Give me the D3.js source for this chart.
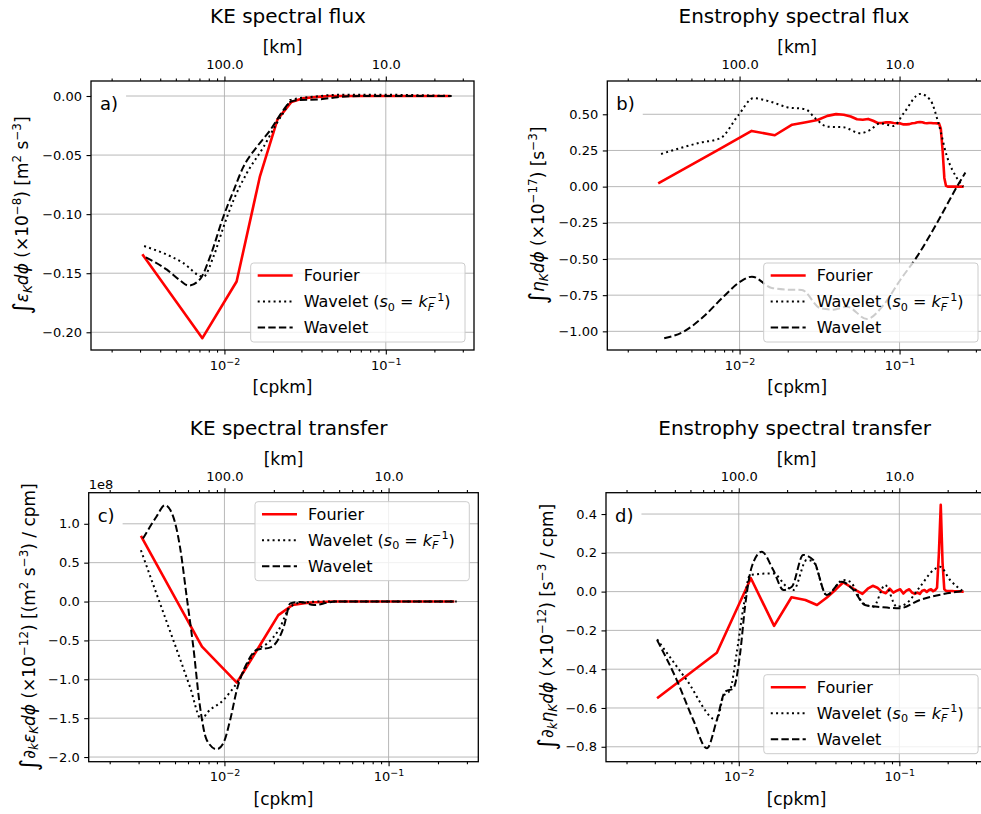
<!DOCTYPE html>
<html lang="en">
<head>
<meta charset="UTF-8">
<title>spectral flux and transfer</title>
<style>
  body { margin: 0; background: #fff; }
  svg text { font-family: "DejaVu Sans", sans-serif; fill: #000; }
  .tick text { font-family: "DejaVu Sans", sans-serif; font-size: 13px; }
  .tick line { stroke: #000; stroke-width: 1.1px; }
  .grid line { stroke: #b0b0b0; stroke-width: 0.9px; }
  .title { font-size: 20px; }
  .alabel { font-size: 17px; }
  .leg { font-size: 16px; }
  .plabel { font-size: 18px; }
  .fourier { fill: none; stroke: #ff0000; stroke-width: 2.6px; stroke-linejoin: round; }
  .s0 { fill: none; stroke: #000; stroke-width: 2px; stroke-dasharray: 2 3.3; }
  .wav { fill: none; stroke: #000; stroke-width: 2px; stroke-dasharray: 7.4 3.2; }
</style>
</head>
<body>
<svg id="fig" width="981" height="814"></svg>

<script src="https://cdn.jsdelivr.net/npm/d3@7"></script>
<script>
"use strict";

// wavenumbers of the Fourier estimate [cpkm]
var kFourier = [0.0031, 0.0073, 0.0119, 0.0166, 0.0213, 0.026, 0.0307, 0.0354, 0.0401, 0.0448,
  0.0495, 0.0542, 0.0589, 0.0636, 0.0683, 0.073, 0.0777, 0.0824, 0.0871, 0.0918,
  0.0965, 0.1012, 0.1059, 0.1106, 0.1153, 0.12, 0.1247, 0.1294, 0.1341, 0.1388,
  0.1435, 0.1482, 0.1529, 0.1576, 0.1623, 0.167, 0.1717, 0.1764, 0.1811, 0.1858,
  0.1905, 0.1952, 0.1999, 0.2046, 0.2093, 0.214, 0.2187, 0.2234, 0.2281, 0.2328,
  0.2375, 0.2422, 0.2469, 0.2516];

// a) KE spectral flux
var keFluxFourier = [-0.134, -0.205, -0.157, -0.068, -0.020, -0.005, -0.002, -0.001, -0.0005, 0,
  0, 0, 0, 0, 0, 0, 0, 0, 0, 0, 0, 0, 0, 0, 0, 0, 0, 0, 0, 0,
  0, 0, 0, 0, 0, 0, 0, 0, 0, 0, 0, 0, 0, 0, 0, 0, 0, 0, 0, 0, 0, 0, 0, 0];
var keFluxWaveletS0 = [[0.00318, -0.127], [0.0055, -0.141], [0.0074, -0.153], [0.00855, -0.136],
  [0.00986, -0.111], [0.0114, -0.088], [0.0138, -0.065], [0.0175, -0.043], [0.0211, -0.023],
  [0.0244, -0.009], [0.0256, -0.0034], [0.0357, -0.0006], [0.05, 0.001], [0.1, 0.001], [0.256, 0]];
var keFluxWavelet = [[0.00326, -0.1366], [0.0044, -0.147], [0.0053, -0.156], [0.006, -0.1605],
  [0.00707, -0.155], [0.00815, -0.136], [0.00986, -0.102], [0.0114, -0.080], [0.0131, -0.060],
  [0.0159, -0.043], [0.0192, -0.029], [0.0232, -0.012], [0.0256, -0.005], [0.0294, -0.0034],
  [0.0392, -0.0028], [0.05, -0.001], [0.07, 0], [0.256, 0]];

// b) Enstrophy spectral flux
var enFluxFourier = [0.023, 0.253, 0.385, 0.355, 0.428, 0.445, 0.46, 0.489, 0.501, 0.497,
  0.485, 0.466, 0.462, 0.468, 0.455, 0.44, 0.44, 0.444, 0.445, 0.44,
  0.438, 0.437, 0.43, 0.43, 0.432, 0.438, 0.44, 0.445, 0.447, 0.445,
  0.44, 0.438, 0.44, 0.44, 0.438, 0.438, 0.437, 0.437, 0.40, 0.25,
  0.06, 0.005, 0, 0, 0, 0, 0, 0, 0, 0, 0, 0, 0, 0];
var enFluxWaveletS0 = [[0.00323, 0.226], [0.00568, 0.304], [0.00757, 0.334], [0.00986, 0.496],
  [0.0122, 0.611], [0.0156, 0.587], [0.0198, 0.549], [0.0258, 0.535], [0.0297, 0.473],
  [0.0352, 0.415], [0.0447, 0.41], [0.0568, 0.369], [0.0656, 0.392], [0.0757, 0.438],
  [0.0917, 0.419], [0.106, 0.507], [0.1346, 0.641], [0.1555, 0.6], [0.175, 0.438],
  [0.198, 0.207], [0.2285, 0.058], [0.25, 0.0]];
var enFluxWavelet = [[0.00338, -1.048], [0.00447, -1.002], [0.00596, -0.898], [0.00794, -0.76],
  [0.0101, -0.657], [0.01195, -0.622], [0.0159, -0.70], [0.02, -0.712], [0.0245, -0.714],
  [0.0319, -0.84], [0.0386, -0.85], [0.0469, -0.83], [0.0625, -0.915], [0.0794, -0.818],
  [0.101, -0.645], [0.1285, -0.484], [0.171, -0.253], [0.2285, 0], [0.2576, 0.097]];

// c) KE spectral transfer (axis offset 1e8)
var keTransFourier = [0.846, -0.581, -1.044, -0.55, -0.174, -0.045, -0.02, -0.01, -0.005, 0,
  0, 0, 0, 0, 0, 0, 0, 0, 0, 0, 0, 0, 0, 0, 0, 0, 0, 0, 0, 0,
  0, 0, 0, 0, 0, 0, 0, 0, 0, 0, 0, 0, 0, 0, 0, 0, 0, 0, 0, 0, 0, 0, 0, 0];
var keTransWaveletS0 = [[0.0031, 0.66], [0.00385, 0.105], [0.00488, -0.495], [0.00616, -1.095],
  [0.00727, -1.523], [0.0078, -1.437], [0.00986, -1.266], [0.0119, -1.05], [0.0158, -0.62],
  [0.0182, -0.54], [0.0214, -0.366], [0.0252, -0.067], [0.0291, -0.015], [0.04, 0], [0.26, 0]];
var keTransWavelet = [[0.00319, 0.81], [0.00385, 1.09], [0.00434, 1.24], [0.00488, 1.09],
  [0.00536, 0.704], [0.00589, 0.062], [0.00646, -0.58], [0.0071, -1.352], [0.0078, -1.78],
  [0.00898, -1.90], [0.00986, -1.82], [0.01084, -1.523], [0.0119, -1.138], [0.0137, -0.794],
  [0.0158, -0.62], [0.0191, -0.589], [0.023, -0.324], [0.0252, -0.024], [0.0291, -0.005],
  [0.0351, -0.045], [0.0424, -0.015], [0.047, 0], [0.26, 0]];

// d) Enstrophy spectral transfer
var enTransFourier = [-0.55, -0.315, 0.069, -0.177, -0.029, -0.043, -0.069, -0.03, 0.01, 0.048,
  0.025, 0.005, -0.012, 0.015, 0.03, 0.02, 0.0, -0.008, 0.015, -0.005,
  0.005, 0.012, -0.01, 0.005, 0.012, -0.005, -0.012, -0.005, -0.012, 0.005,
  0.008, -0.002, 0.008, 0.012, 0.002, 0.008, 0.02, 0.2, 0.447, 0.15,
  0.012, 0.005, 0.003, 0.003, 0.003, 0.003, 0.002, 0.002, 0.002, 0.001,
  0.001, 0.001, 0, 0];
var enTransWaveletS0 = [[0.0031, -0.246], [0.00474, -0.456], [0.0073, -0.662], [0.008, -0.542],
  [0.00883, -0.507], [0.0097, -0.318], [0.0107, -0.078], [0.01175, 0.086], [0.0164, 0.094],
  [0.0199, 0.025], [0.0219, 0.008], [0.0265, 0.163], [0.0291, 0.154], [0.0353, -0.018],
  [0.0448, 0.06], [0.0493, 0.051], [0.0597, -0.06], [0.0689, -0.078], [0.0815, 0.034],
  [0.0964, -0.078], [0.111, -0.06], [0.1346, 0.025], [0.163, 0.111], [0.179, 0.128],
  [0.207, 0.06], [0.25, 0]];
var enTransWavelet = [[0.0031, -0.25], [0.00411, -0.456], [0.00521, -0.662], [0.00633, -0.808],
  [0.0073, -0.662], [0.00822, -0.516], [0.00925, -0.499], [0.0102, -0.318], [0.01094, -0.078],
  [0.01205, 0.128], [0.0139, 0.206], [0.0164, 0.111], [0.019, 0.008], [0.0214, 0.025],
  [0.0252, 0.189], [0.0291, 0.163], [0.0353, -0.018], [0.0438, 0.051], [0.0518, 0.008],
  [0.0611, -0.069], [0.0794, -0.081], [0.1, -0.086], [0.1346, -0.043], [0.25, 0.003]];

// axis ticks
var xlim = [0.00149, 0.352];
var xMajor = [0.01, 0.1];
var xTickExp = ["\u22122", "\u22121"];
var kmLabels = ["100.0", "10.0"];
var xMinor = [0.002, 0.003, 0.004, 0.005, 0.006, 0.007, 0.008, 0.009,
  0.02, 0.03, 0.04, 0.05, 0.06, 0.07, 0.08, 0.09, 0.2, 0.3];
var yTicksA = [0, -0.05, -0.10, -0.15, -0.20];
var yTicksB = [0.5, 0.25, 0, -0.25, -0.5, -0.75, -1.0];
var yTicksC = [1.0, 0.5, 0, -0.5, -1.0, -1.5, -2.0];
var yTicksD = [0.4, 0.2, 0, -0.2, -0.4, -0.6, -0.8];

var seriesClass = ["fourier", "s0", "wav"];
var legendNames = [
  [["Fourier"]],
  [["Wavelet ("], ["s", "i"], ["0", "sub"], [" = "], ["k", "i"], ["F", "isub"], ["\u22121", "supstack"], [")"]],
  [["Wavelet"]]
];

var panels = [
  { tag: "a)", title: "KE spectral flux", titleX: 288,
    left: 91, right: 474, top: 81, bottom: 350, ydom: [-0.215, 0.0127],
    yticks: yTicksA, yfmt: ".2f", ylabOff: 63, legendTop: false,
    fourier: keFluxFourier, s0: keFluxWaveletS0, wav: keFluxWavelet,
    ylabel: [["\u222B", "big"], ["\u03B5", "i"], ["K", "isub"], ["d\u03D5", "i"], [" (\u00D710"], ["\u22128", "sup"],
      [") [m"], ["2", "sup"], [" s"], ["\u22123", "sup"], ["]"]] },
  { tag: "b)", title: "Enstrophy spectral flux", titleX: 794,
    left: 607.3, right: 987, top: 81, bottom: 350, ydom: [-1.129, 0.730],
    yticks: yTicksB, yfmt: ".2f", ylabOff: 63, legendTop: false,
    fourier: enFluxFourier, s0: enFluxWaveletS0, wav: enFluxWavelet,
    ylabel: [["\u222B", "big"], ["\u03B7", "i"], ["K", "isub"], ["d\u03D5", "i"], [" (\u00D710"], ["\u221217", "sup"],
      [") [s"], ["\u22123", "sup"], ["]"]] },
  { tag: "c)", title: "KE spectral transfer", titleX: 288.7, offsetText: "1e8",
    left: 88.7, right: 478.3, top: 492.7, bottom: 761.7, ydom: [-2.06, 1.40],
    yticks: yTicksC, yfmt: ".1f", ylabOff: 54, legendTop: true,
    fourier: keTransFourier, s0: keTransWaveletS0, wav: keTransWavelet,
    ylabel: [["\u222B", "big"], ["\u2202", "i"], ["k", "isub"], ["\u03B5", "i"], ["K", "isub"], ["d\u03D5", "i"],
      [" (\u00D710"], ["\u221212", "sup"], [") [(m"], ["2", "sup"], [" s"], ["\u22123", "sup"], [") / cpm]"]] },
  { tag: "d)", title: "Enstrophy spectral transfer", titleX: 794.7,
    left: 606, right: 987.1, top: 492.7, bottom: 761.7, ydom: [-0.877, 0.51],
    yticks: yTicksD, yfmt: ".1f", ylabOff: 53, legendTop: false,
    fourier: enTransFourier, s0: enTransWaveletS0, wav: enTransWavelet,
    ylabel: [["\u222B", "big"], ["\u2202", "i"], ["k", "isub"], ["\u03B7", "i"], ["K", "isub"], ["d\u03D5", "i"],
      [" (\u00D710"], ["\u221212", "sup"], [") [s"], ["\u22123", "sup"], [" / cpm]"]] }
];

var svg = d3.select("#fig");

// mathtext-like text made of tspans
function richText(sel, parts, size) {
  var cur = 0, prev = null;
  parts.forEach(function (p) {
    var kind = p[1] || "n";
    var fs = size, target = 0, it = false, dx = 0;
    if (kind === "i") it = true;
    if (kind === "big") { fs = size * 1.4; target = size * 0.12; }
    if (kind === "sub" || kind === "isub") { fs = size * 0.7; target = size * 0.22; it = (kind === "isub"); }
    if (kind === "sup" || kind === "supstack") { fs = size * 0.7; target = -size * 0.42; }
    if (kind === "supstack" && prev) dx = -prev.node().getComputedTextLength();
    var t = sel.append("tspan").text(p[0]).attr("font-size", fs + "px");
    if (target - cur !== 0) t.attr("dy", target - cur);
    if (dx) t.attr("dx", dx);
    if (it) t.attr("font-style", "italic");
    cur = target;
    prev = t;
  });
}

function drawPanel(p, idx) {
  var x = d3.scaleLog().domain(xlim).range([p.left, p.right]);
  var y = d3.scaleLinear().domain(p.ydom).range([p.bottom, p.top]);
  var g = svg.append("g");

  g.append("clipPath").attr("id", "clip" + idx).append("rect")
    .attr("x", p.left).attr("y", p.top)
    .attr("width", p.right - p.left).attr("height", p.bottom - p.top);

  // grid
  var grid = g.append("g").attr("class", "grid");
  grid.selectAll("line.h").data(p.yticks).join("line").attr("class", "h")
    .attr("x1", p.left).attr("x2", p.right)
    .attr("y1", function (d) { return y(d); }).attr("y2", function (d) { return y(d); });
  grid.selectAll("line.v").data(xMajor).join("line").attr("class", "v")
    .attr("y1", p.top).attr("y2", p.bottom)
    .attr("x1", function (d) { return x(d); }).attr("x2", function (d) { return x(d); });

  // curves
  var plot = g.append("g").attr("clip-path", "url(#clip" + idx + ")");
  var fLine = d3.line()
    .x(function (d, i) { return x(kFourier[i]); })
    .y(function (d) { return y(d); });
  var wLine = d3.line()
    .x(function (d) { return x(d[0]); })
    .y(function (d) { return y(d[1]); })
    .curve(d3.curveMonotoneX);
  plot.append("path").attr("class", "fourier").attr("d", fLine(p.fourier));
  plot.append("path").attr("class", "s0").attr("d", wLine(p.s0));
  plot.append("path").attr("class", "wav").attr("d", wLine(p.wav));

  // panel tag with white box
  var tagG = g.append("g");
  var tag = tagG.append("text").attr("class", "plabel")
    .attr("x", p.left + 9).attr("y", p.top + 29).text(p.tag);
  var bb = tag.node().getBBox();
  tagG.insert("rect", "text")
    .attr("x", bb.x - 8).attr("y", bb.y - 4)
    .attr("width", bb.width + 16).attr("height", bb.height + 8)
    .attr("fill", "#fff");

  // legend
  var lg = g.append("g");
  var rows = [];
  legendNames.forEach(function (name, i) {
    var t = lg.append("text").attr("class", "leg").attr("dy", "0.36em");
    richText(t, name, 16);
    rows.push(t);
  });
  var tw = d3.max(rows, function (t) { return t.node().getComputedTextLength(); });
  var w = 53 + tw + 8, h = 79;
  var lx = p.right - 9 - w;
  var ly = p.legendTop ? p.top + 9 : p.bottom - 8 - h;
  lg.insert("rect", "text")
    .attr("x", lx).attr("y", ly).attr("width", w).attr("height", h).attr("rx", 3)
    .attr("fill", "#fff").attr("fill-opacity", 0.8)
    .attr("stroke", "#cccccc").attr("stroke-width", 1);
  rows.forEach(function (t, i) {
    var cy = ly + 12.5 + 26 * i;
    t.attr("x", lx + 53).attr("y", cy);
    lg.append("line").attr("class", seriesClass[i])
      .attr("x1", lx + 7).attr("x2", lx + 42).attr("y1", cy).attr("y2", cy);
  });

  // axes
  var axB = g.append("g").attr("transform", "translate(0," + p.bottom + ")")
    .call(d3.axisBottom(x).tickValues(xMajor).tickSize(4.5).tickPadding(6)
      .tickFormat(function () { return "10"; }));
  axB.selectAll(".tick text").append("tspan")
    .attr("dy", "-0.55em").attr("font-size", "9.5px")
    .text(function (d, i) { return xTickExp[i]; });
  g.append("g").attr("transform", "translate(0," + p.bottom + ")")
    .call(d3.axisBottom(x).tickValues(xMinor).tickSize(2.6).tickFormat(""));
  g.append("g").attr("transform", "translate(0," + p.top + ")")
    .call(d3.axisTop(x).tickValues(xMinor).tickSize(2.6).tickFormat(""));
  g.append("g").attr("transform", "translate(0," + p.top + ")")
    .call(d3.axisTop(x).tickValues(xMajor).tickSize(4.5).tickPadding(7.5)
      .tickFormat(function (d, i) { return kmLabels[i]; }));
  g.append("g").attr("transform", "translate(" + p.left + ",0)")
    .call(d3.axisLeft(y).tickValues(p.yticks).tickSize(4.5).tickPadding(4.5)
      .tickFormat(d3.format(p.yfmt)));
  g.selectAll(".domain").remove();

  // spines
  g.append("rect").attr("x", p.left).attr("y", p.top)
    .attr("width", p.right - p.left).attr("height", p.bottom - p.top)
    .attr("fill", "none").attr("stroke", "#000").attr("stroke-width", 1.3);

  if (p.offsetText) {
    g.append("text").attr("x", p.left).attr("y", p.top - 4)
      .attr("font-size", "13px").text(p.offsetText);
  }

  // labels and title
  var cx = (p.left + p.right) / 2;
  g.append("text").attr("class", "alabel").attr("text-anchor", "middle")
    .attr("x", cx).attr("y", p.bottom + 43).text("[cpkm]");
  g.append("text").attr("class", "alabel").attr("text-anchor", "middle")
    .attr("x", cx).attr("y", p.top - 28).text("[km]");
  g.append("text").attr("class", "title").attr("text-anchor", "middle")
    .attr("x", p.titleX).attr("y", p.top - 58).text(p.title);
  var yl = g.append("text").attr("class", "alabel").attr("text-anchor", "middle")
    .attr("transform", "translate(" + (p.left - p.ylabOff) + "," + ((p.top + p.bottom) / 2) + ") rotate(-90)");
  richText(yl, p.ylabel, 17);
}

panels.forEach(drawPanel);
</script>
</body>
</html>
